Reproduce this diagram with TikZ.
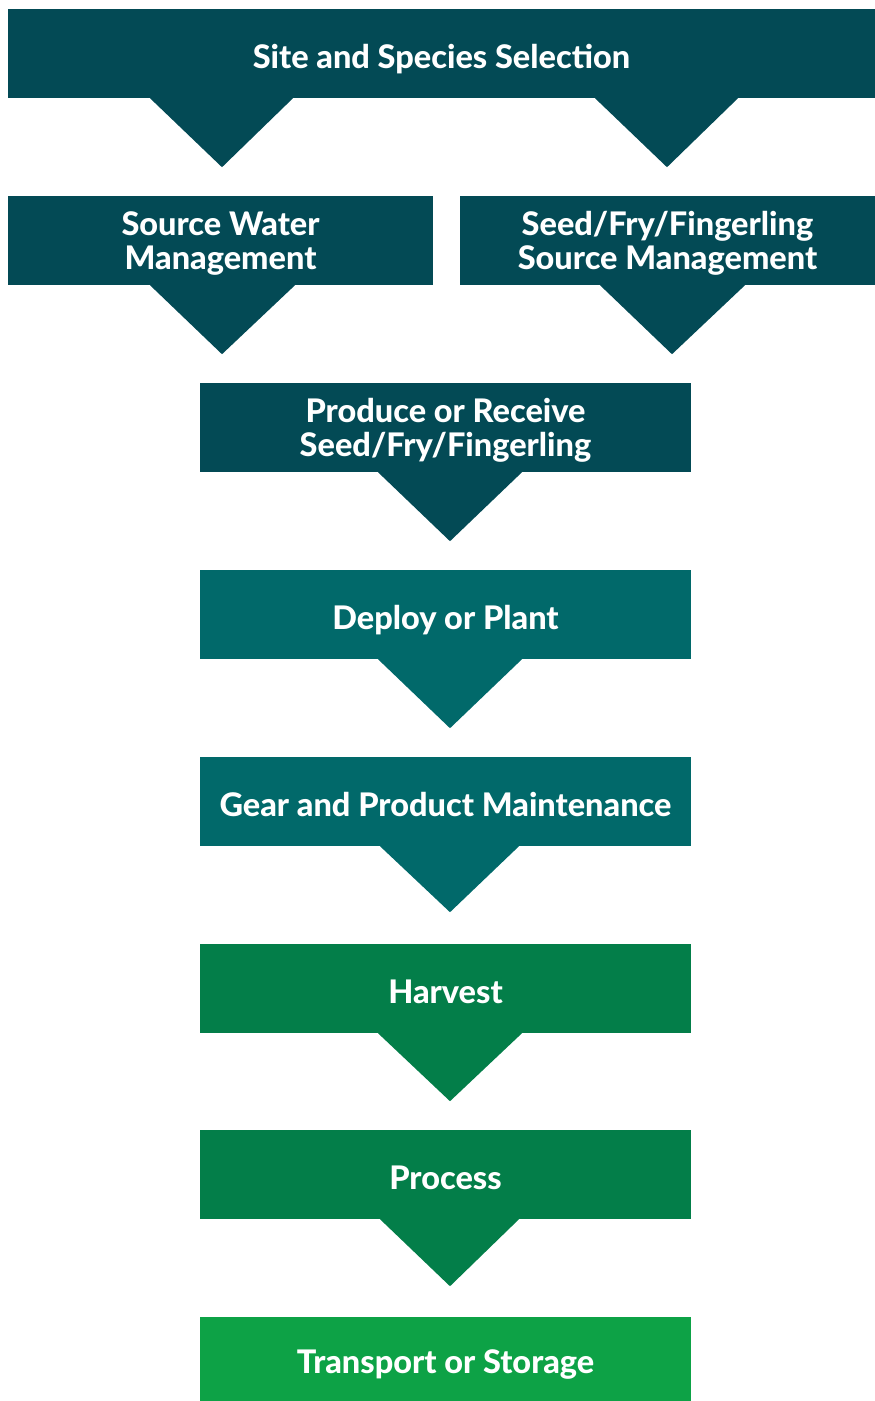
\documentclass[tikz,border=0pt]{standalone}
\usepackage{fontspec}
\setmainfont{Lato}[BoldFont={Lato Heavy}]
\usepackage{tikz}

\definecolor{darkteal}{HTML}{034A55}
\definecolor{midteal}{HTML}{01696A}
\definecolor{deepgreen}{HTML}{037E49}
\definecolor{brightgreen}{HTML}{0DA246}

\tikzset{
  stage/.style={rectangle, inner sep=0pt, text=white, align=center, text depth=0pt,
    font=\fontsize{32.5}{34}\selectfont\bfseries, minimum height=89pt},
  oneline/.style={execute at begin node={\rule{0pt}{29pt}}},
}

\begin{document}
\begin{tikzpicture}[x=1pt,y=-1pt]
   \useasboundingbox (0,0) rectangle (875,1401);

   \node[stage, oneline, fill=darkteal, minimum width=867pt] (sel) at (441.5,53.5) {Site and Species Selection};
   \node[stage, fill=darkteal, minimum width=425pt] (water) at (220.5,240.5) {Source Water\\Management};
   \node[stage, fill=darkteal, minimum width=415pt] (seed) at (667.5,240.5) {Seed/Fry/Fingerling\\Source Management};
   \node[stage, fill=darkteal, minimum width=491pt] (recv) at (445.5,427.5) {Produce or Receive\\Seed/Fry/Fingerling};
   \node[stage, oneline, fill=midteal, minimum width=491pt] (deploy) at (445.5,614.5) {Deploy or Plant};
   \node[stage, oneline, fill=midteal, minimum width=491pt] (gear) at (445.5,801.5) {Gear and Product Maintenance};
   \node[stage, oneline, fill=deepgreen, minimum width=491pt] (harvest) at (445.5,988.5) {Harvest};
   \node[stage, oneline, fill=deepgreen, minimum width=491pt] (process) at (445.5,1174.5) {Process};
   \node[stage, oneline, fill=brightgreen, minimum width=491pt, minimum height=84pt] (transport) at (445.5,1359) {Transport or Storage};

   % pointers under the boxes
   \fill[darkteal] ([xshift=-291.5pt]sel.south) -- ([xshift=-148.5pt]sel.south) -- ([xshift=-219.5pt,yshift=-69pt]sel.south) -- cycle;
   \fill[darkteal] ([xshift=153.5pt]sel.south) -- ([xshift=296.5pt]sel.south) -- ([xshift=225.5pt,yshift=-69pt]sel.south) -- cycle;

   \fill[darkteal] ([xshift=-70.5pt]water.south) -- ([xshift=74.5pt]water.south) -- ([xshift=1.5pt,yshift=-69pt]water.south) -- cycle;
   \fill[darkteal] ([xshift=-67.5pt]seed.south) -- ([xshift=77.5pt]seed.south) -- ([xshift=4.5pt,yshift=-69pt]seed.south) -- cycle;

   \fill[darkteal] ([xshift=-67.5pt]recv.south) -- ([xshift=76.5pt]recv.south) -- ([xshift=4.5pt,yshift=-69pt]recv.south) -- cycle;
   \fill[midteal] ([xshift=-67.5pt]deploy.south) -- ([xshift=76.5pt]deploy.south) -- ([xshift=4.5pt,yshift=-69pt]deploy.south) -- cycle;
   \fill[midteal] ([xshift=-65.5pt]gear.south) -- ([xshift=73.5pt]gear.south) -- ([xshift=4.5pt,yshift=-66pt]gear.south) -- cycle;
   \fill[deepgreen] ([xshift=-67.5pt]harvest.south) -- ([xshift=76.5pt]harvest.south) -- ([xshift=4.5pt,yshift=-68pt]harvest.south) -- cycle;
   \fill[deepgreen] ([xshift=-65.5pt]process.south) -- ([xshift=73.5pt]process.south) -- ([xshift=4.5pt,yshift=-67pt]process.south) -- cycle;

 \end{tikzpicture}
\end{document}
